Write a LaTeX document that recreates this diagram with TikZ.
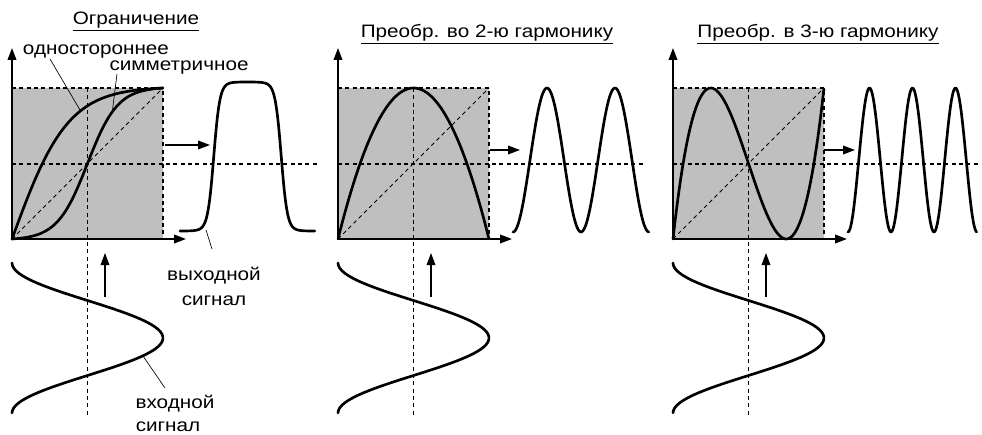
\documentclass[tikz,border=0pt]{standalone}
\usepackage{fontspec}
\setmainfont{Liberation Sans}[FakeStretch=1.15]
\usetikzlibrary{arrows.meta}
\tikzset{
  guide/.style={line width=0.8pt,dash pattern=on 3pt off 2.5pt},
  axis/.style={-{Triangle[length=9pt,width=6.5pt]},line width=1.2pt},
  flow/.style={-{Triangle[length=9pt,width=6.5pt]},line width=1pt},
  curve/.style={line width=2pt,line join=round,line cap=round},
  lead/.style={line width=0.5pt},
  lbl/.style={inner sep=0pt,anchor=base},
}

\begin{document}
\begin{tikzpicture}[x=0.75pt,y=-0.75pt,font=\fontsize{13.5}{16}\selectfont]
  \useasboundingbox (0,0) rectangle (982,435);
  \foreach \xo in {12,338,673}{
    \fill[black!25] (\xo,88) rectangle ++(151,151);
    \draw[guide] (\xo,88) -- ++(151,0) -- ++(0,151);
    \draw[guide] (\xo+75.5,88) -- (\xo+75.5,415);
    \draw[guide] (\xo,164) -- ++(305,0);
    \draw[guide,line width=0.6pt] (\xo,239) -- ++(151,-151);
    \draw[curve,domain=0:1,samples=60,variable=\t] plot ({\xo+151*(0.5-0.5*cos(360*\t))},{263+150*\t});
    \draw[flow] (\xo+93,297) -- (\xo+93,253);
  }
  % ogranichenie
  \draw[curve,domain=0:1,samples=80,variable=\u] plot ({12+151*\u},{239-151*tanh(2.7*\u)/tanh(2.7)});
  \draw[curve,domain=0:1,samples=80,variable=\u] plot ({12+151*\u},{239-151*(0.5+0.5*tanh(5*(\u-0.5))/tanh(2.5))});
  \draw[curve,domain=0:1,samples=120,variable=\t] plot ({180+135*\t},{231-149*(0.5-0.5*tanh(3.5*cos(360*\t))/tanh(3.5))});
  % 2-ya garmonika
  \draw[curve,domain=0:1,samples=80,variable=\u] plot ({338+151*\u},{239-151*4*\u*(1-\u)});
  \draw[curve,domain=0:1,samples=120,variable=\t] plot ({513+136*\t},{232-144*(0.5-0.5*cos(720*\t))});
  % 3-ya garmonika
  \draw[curve,domain=0:1,samples=80,variable=\u] plot ({673+151*\u},{239-151*(0.5+0.5*(4*(2*\u-1)*(2*\u-1)*(2*\u-1)-3*(2*\u-1)))});
  \draw[curve,domain=0:1,samples=150,variable=\t] plot ({848+129*\t},{232-144*(0.5-0.5*cos(1080*\t))});

  \foreach \xo in {12,338,673}{
    \draw[axis] (\xo,239) -- (\xo,48);
    \draw[axis] (\xo,239) -- (\xo+174,239);
  }
  \draw[flow] (165,145) -- (210,145);
  \draw[flow] (490,150) -- (520,150);
  \draw[flow] (824,150) -- (855,150);

  \node[lbl] (limTitle) at (136,25) {\underline{Ограничение}};
  \node[lbl] (oneLbl) at (96,55) {одностороннее};
  \node[lbl] (symLbl) at (179,71) {симметричное};
  \node[lbl] (outLbl) at (214,280) {выходной};
  \node[lbl] (outLbl2) at (214,305) {сигнал};
  \node[lbl] (inLbl) at (175,408) {входной};
  \node[lbl] (inLbl2) at (168,431) {сигнал};
  \node[lbl] (h2Title) at (487,38) {\underline{Преобр. во 2-ю гармонику}};
  \node[lbl] (h3Title) at (818,38) {\underline{Преобр. в 3-ю гармонику}};

  \coordinate (oneEnd) at (80,110);
  \coordinate (symEnd) at (112,114);
  \coordinate (outEnd) at (206,230);
  \coordinate (inEnd) at (143,356);
  \draw[lead] (50,59) -- (oneEnd);
  \draw[lead] (117,74) -- (symEnd);
  \draw[lead] (212,249) -- (outEnd);
  \draw[lead] (165,388) -- (inEnd);
\end{tikzpicture}
\end{document}
